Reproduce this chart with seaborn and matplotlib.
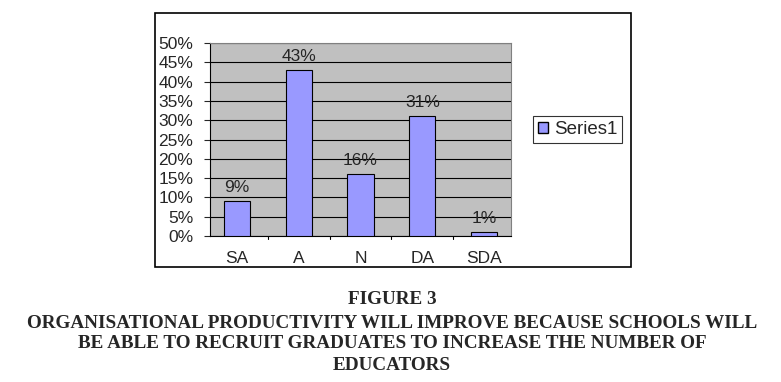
import matplotlib
matplotlib.use("Agg")
import matplotlib.pyplot as plt
import seaborn as sns
import pandas as pd
from matplotlib.patches import Rectangle, Patch

categories = ["SA", "A", "N", "DA", "SDA"]
values = [9, 43, 16, 31, 1]
value_labels = ["9%", "43%", "16%", "31%", "1%"]
yticks = [0, 5, 10, 15, 20, 25, 30, 35, 40, 45, 50]
caption = ["FIGURE 3",
           "ORGANISATIONAL PRODUCTIVITY WILL IMPROVE BECAUSE SCHOOLS WILL",
           "BE ABLE TO RECRUIT GRADUATES TO INCREASE THE NUMBER OF",
           "EDUCATORS"]

df = pd.DataFrame({"cat": categories, "val": values})

sns.set_style("white")
plt.rcParams["font.family"] = ["Liberation Sans", "DejaVu Sans"]

W, H = 781, 382
fig = plt.figure(figsize=(W / 100, H / 100), dpi=100)

# outer chart frame
fig.patches.append(Rectangle((155 / W, 1 - 267 / H), (631 - 155) / W, (267 - 13) / H,
                             transform=fig.transFigure, fill=False,
                             edgecolor="black", linewidth=1.2))

ax = fig.add_axes([210 / W, 1 - 236 / H, (511 - 210) / W, (236 - 43) / H])
ax.set_facecolor("#C0C0C0")
sns.barplot(data=df, x="cat", y="val", ax=ax, color="#9999FF",
            width=0.42, edgecolor="black", linewidth=0.8, saturation=1, zorder=3)
ax.set_ylim(0, 50)
ax.set_yticks(yticks)
ax.set_yticklabels([f"{t}%" for t in yticks], fontsize=12.5)
ax.tick_params(axis="x", labelsize=12.5, length=0, pad=11)
ax.tick_params(axis="y", length=4, direction="out", left=True, pad=8)
ax.yaxis.grid(True, color="black", linewidth=0.8, zorder=0)
ax.set_axisbelow(True)
ax.set_xlabel("")
ax.set_ylabel("")
for s in ["top", "right"]:
    ax.spines[s].set_visible(True)
    ax.spines[s].set_color("#808080")
    ax.spines[s].set_linewidth(0.8)
ax.spines["left"].set_color("black")
ax.spines["bottom"].set_color("black")
# category separator ticks on x-axis
for b in [0.5, 1.5, 2.5, 3.5]:
    ax.plot([b, b], [0, -0.8], color="black", lw=0.8, clip_on=False)

for i, (v, lab) in enumerate(zip(values, value_labels)):
    ax.text(i, v + 1.6, lab, ha="center", va="bottom", fontsize=12.5)

leg = ax.legend(handles=[Patch(facecolor="#9999FF", edgecolor="black", label="Series1")],
                loc="center left", bbox_to_anchor=(533 / W, 1 - 129.5 / H),
                bbox_transform=fig.transFigure, fontsize=13.5, frameon=True,
                fancybox=False, handlelength=0.55, handleheight=0.55,
                handletextpad=0.3, borderpad=0.25, borderaxespad=0)
leg.get_frame().set_edgecolor("black")
leg.get_frame().set_linewidth(0.8)

ys = [300, 323, 344, 365]
for t, y in zip(caption, ys):
    fig.text(392 / W, 1 - y / H, t, ha="center", va="center", fontsize=13.8,
             fontweight="bold", family=["Liberation Serif", "DejaVu Serif"])

fig.savefig("out.png", dpi=100)
